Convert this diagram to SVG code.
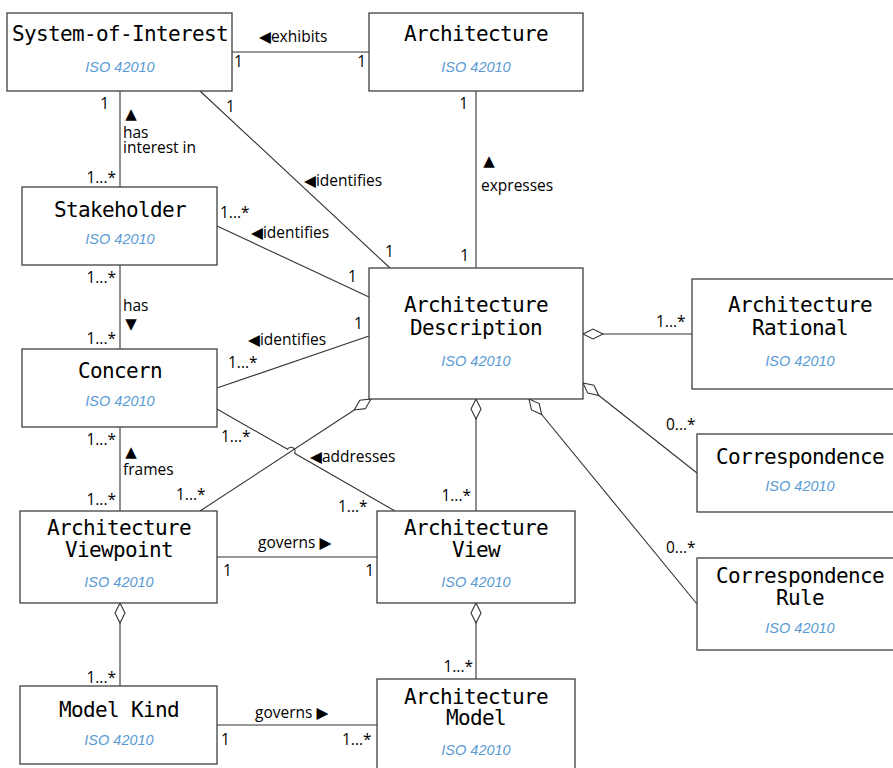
<svg xmlns="http://www.w3.org/2000/svg" xmlns:xlink="http://www.w3.org/1999/xlink" width="893" height="768" viewBox="0 0 893 768">
<style>
.box{fill:#fff;stroke:#404040;stroke-width:1.3}
.t{font-family:"DejaVu Sans Mono","Liberation Mono",monospace;font-size:21px;letter-spacing:-0.65px;fill:#000;text-anchor:middle}
.iso{font-family:"Liberation Sans",Arial,sans-serif;font-style:italic;font-size:14.5px;fill:#5B9BD5;text-anchor:middle}
.c{fill:none;stroke:#333;stroke-width:1.1}
.l{font-family:"Open Sans","DejaVu Sans",sans-serif;font-size:15.5px;fill:#000}
.tri{font-family:"DejaVu Sans",sans-serif;font-size:15px;fill:#000;text-anchor:middle}
.e{text-anchor:end}
.m{text-anchor:middle}
.dia{fill:#fff;stroke:#333;stroke-width:1.1}
</style>
<defs>
<path id="dia" d="M0,0 L10,-5 L20,0 L10,5 Z"/>
</defs>
<rect width="893" height="768" fill="#fff"/>

<g id="connectors">
<line class="c" x1="232" y1="52" x2="369" y2="52"/>
<line class="c" x1="120" y1="91" x2="120" y2="187"/>
<line class="c" x1="200" y1="91" x2="390" y2="268"/>
<line class="c" x1="476" y1="91" x2="476" y2="268"/>
<line class="c" x1="217" y1="226" x2="369" y2="297"/>
<line class="c" x1="120" y1="265" x2="120" y2="349"/>
<line class="c" x1="217" y1="388" x2="369" y2="336"/>
<path class="c" d="M217,409 L287.5,449.3 A4,4 0 0 1 294.5,453.3 L395,511"/>
<line class="c" x1="120" y1="427" x2="120" y2="511"/>
<line class="c" x1="200" y1="511" x2="371" y2="399"/>
<line class="c" x1="476" y1="399" x2="476" y2="511"/>
<line class="c" x1="583" y1="334" x2="692" y2="334"/>
<line class="c" x1="583" y1="383" x2="697" y2="473"/>
<line class="c" x1="529" y1="399" x2="697" y2="604"/>
<line class="c" x1="217" y1="557" x2="377" y2="557"/>
<line class="c" x1="120" y1="603" x2="120" y2="686"/>
<line class="c" x1="476" y1="603" x2="476" y2="679"/>
<line class="c" x1="217" y1="725" x2="377" y2="725"/>

<use xlink:href="#dia" class="dia" transform="translate(371,399) rotate(146.8)"/>
<use xlink:href="#dia" class="dia" transform="translate(476,399) rotate(90)"/>
<use xlink:href="#dia" class="dia" transform="translate(529,399) rotate(50.7)"/>
<use xlink:href="#dia" class="dia" transform="translate(583,383) rotate(38.5)"/>
<use xlink:href="#dia" class="dia" transform="translate(583,334)"/>
<use xlink:href="#dia" class="dia" transform="translate(120,603) rotate(90)"/>
<use xlink:href="#dia" class="dia" transform="translate(476,603) rotate(90)"/>

<text class="l" x="259" y="42">◀exhibits</text>
<text class="l" x="234" y="67">1</text>
<text class="l e" x="366" y="67">1</text>

<text class="l e" x="109" y="109">1</text>
<text class="tri" x="131" y="119">▲</text>
<text class="l" x="123" y="138">has</text>
<text class="l" x="123" y="153">interest in</text>
<text class="l e" x="116" y="183">1...*</text>

<text class="l" x="226" y="112">1</text>
<text class="l" x="304" y="186">◀identifies</text>
<text class="l" x="385" y="257">1</text>

<text class="l e" x="468" y="109">1</text>
<text class="tri" x="489" y="166">▲</text>
<text class="l" x="481" y="191">expresses</text>
<text class="l e" x="469" y="261">1</text>

<text class="l" x="220" y="218">1...*</text>
<text class="l" x="251" y="238">◀identifies</text>
<text class="l" x="348" y="282">1</text>

<text class="l e" x="116" y="283">1...*</text>
<text class="l" x="123" y="311">has</text>
<text class="tri" x="131" y="329">▼</text>
<text class="l e" x="116" y="344">1...*</text>

<text class="l" x="354" y="329">1</text>
<text class="l" x="248" y="345">◀identifies</text>
<text class="l" x="228" y="368">1...*</text>

<text class="l" x="221" y="442">1...*</text>
<text class="l" x="310" y="462">◀addresses</text>
<text class="l" x="338" y="512">1...*</text>

<text class="l e" x="116" y="445">1...*</text>
<text class="tri" x="131" y="457">▲</text>
<text class="l" x="123" y="475">frames</text>
<text class="l e" x="116" y="505">1...*</text>

<text class="l" x="176" y="500">1...*</text>
<text class="l e" x="471" y="501">1...*</text>

<text class="l" x="258" y="548">governs ▶</text>
<text class="l" x="223" y="576">1</text>
<text class="l e" x="374" y="576">1</text>

<text class="l e" x="116" y="683">1...*</text>
<text class="l e" x="473" y="672">1...*</text>

<text class="l" x="255" y="718">governs ▶</text>
<text class="l" x="221" y="745">1</text>
<text class="l" x="342" y="745">1...*</text>

<text class="l" x="656" y="327">1...*</text>
<text class="l" x="666" y="430">0...*</text>
<text class="l" x="666" y="553">0...*</text>
</g>

<g id="system-of-interest">
<rect class="box" x="7" y="13" width="225" height="78"/>
<text class="t" x="120" y="41">System-of-Interest</text>
<text class="iso" x="120" y="72">ISO 42010</text>
</g>

<g id="architecture">
<rect class="box" x="369" y="13" width="214" height="78"/>
<text class="t" x="476" y="41">Architecture</text>
<text class="iso" x="476" y="72">ISO 42010</text>
</g>

<g id="stakeholder">
<rect class="box" x="22" y="187" width="195" height="78"/>
<text class="t" x="120" y="217">Stakeholder</text>
<text class="iso" x="120" y="244">ISO 42010</text>
</g>

<g id="concern">
<rect class="box" x="22" y="349" width="195" height="78"/>
<text class="t" x="120" y="378">Concern</text>
<text class="iso" x="120" y="406">ISO 42010</text>
</g>

<g id="architecture-description">
<rect class="box" x="369" y="268" width="214" height="131"/>
<text class="t" x="476" y="312">Architecture</text>
<text class="t" x="476" y="335">Description</text>
<text class="iso" x="476" y="366">ISO 42010</text>
</g>

<g id="architecture-rational">
<rect class="box" x="692" y="279" width="216" height="110"/>
<text class="t" x="800" y="312">Architecture</text>
<text class="t" x="800" y="335">Rational</text>
<text class="iso" x="800" y="366">ISO 42010</text>
</g>

<g id="correspondence">
<rect class="box" x="697" y="434" width="210" height="78"/>
<text class="t" x="800" y="464">Correspondence</text>
<text class="iso" x="800" y="491">ISO 42010</text>
</g>

<g id="correspondence-rule">
<rect class="box" x="697" y="558" width="210" height="92"/>
<text class="t" x="800" y="583">Correspondence</text>
<text class="t" x="800" y="605">Rule</text>
<text class="iso" x="800" y="633">ISO 42010</text>
</g>

<g id="architecture-viewpoint">
<rect class="box" x="20" y="511" width="197" height="92"/>
<text class="t" x="119" y="535">Architecture</text>
<text class="t" x="119" y="557">Viewpoint</text>
<text class="iso" x="119" y="587">ISO 42010</text>
</g>

<g id="architecture-view">
<rect class="box" x="377" y="511" width="198" height="92"/>
<text class="t" x="476" y="535">Architecture</text>
<text class="t" x="476" y="557">View</text>
<text class="iso" x="476" y="587">ISO 42010</text>
</g>

<g id="model-kind">
<rect class="box" x="20" y="686" width="197" height="78"/>
<text class="t" x="119" y="717">Model Kind</text>
<text class="iso" x="119" y="745">ISO 42010</text>
</g>

<g id="architecture-model">
<rect class="box" x="377" y="679" width="198" height="100"/>
<text class="t" x="476" y="704">Architecture</text>
<text class="t" x="476" y="725">Model</text>
<text class="iso" x="476" y="755">ISO 42010</text>
</g>
</svg>
